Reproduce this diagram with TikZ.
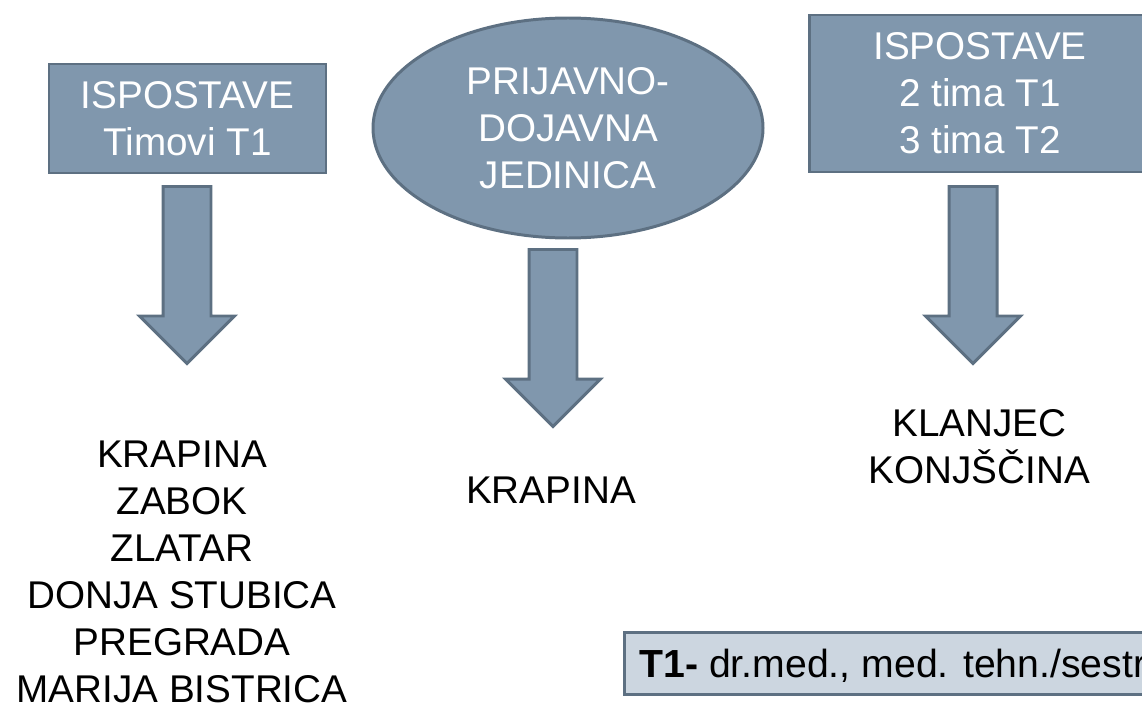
\documentclass[tikz,border=0pt]{standalone}
\usepackage{fontspec}
\setmainfont{Liberation Sans}
\usetikzlibrary{shapes.geometric,shapes.arrows}
\definecolor{boxfill}{RGB}{128,151,173}
\definecolor{boxline}{RGB}{93,112,130}
\definecolor{legendfill}{RGB}{204,214,224}
\begin{document}
\begin{tikzpicture}[
  unit/.style={draw=boxline, fill=boxfill, line width=1.7pt, text=white, align=center,
    font=\fontsize{22}{26.7}\selectfont},
  place/.style={align=center, inner sep=0pt, font=\fontsize{22}{26.7}\selectfont},
  down/.style={single arrow, draw=boxline, fill=boxfill, line width=1.7pt, rotate=-90,
    inner xsep=0pt, inner ysep=0.45cm, minimum height=3.54cm, single arrow head extend=0.47cm}]
  \path[use as bounding box] (0,0) rectangle (22.84,14.16);
  \clip (0,0) rectangle (22.84,14.16);
  % units
  \node[unit, rectangle, minimum width=5.54cm, minimum height=2.18cm] (ispL) at (3.75,11.79) {ISPOSTAVE\\Timovi T1};
  \node[unit, ellipse, minimum width=7.8cm, minimum height=4.4cm, inner sep=0pt] (pdj) at (11.36,11.60) {PRIJAVNO-\\DOJAVNA\\JEDINICA};
  \node[unit, rectangle, minimum width=6.84cm, minimum height=3.14cm] (ispR) at (19.60,12.29) {ISPOSTAVE\\2 tima T1\\3 tima T2};
  % arrows
  \node[down] (arrL) at (3.74,8.90) {};
  \node[down] (arrM) at (11.06,7.64) {};
  \node[down] (arrR) at (19.46,8.90) {};
  % places (base = last line)
  \node[place, anchor=base] (gradL) at (3.64,0.12) {KRAPINA\\ZABOK\\ZLATAR\\DONJA STUBICA\\PREGRADA\\MARIJA BISTRICA};
  \node[place, anchor=base] (gradM) at (11.02,4.10) {KRAPINA};
  \node[place, anchor=base] (gradR) at (19.59,4.50) {KLANJEC\\KONJŠČINA};
  % legend
  \node[draw=boxline, fill=legendfill, line width=1.7pt, anchor=west, minimum height=1.24cm,
    inner xsep=0.3cm, text depth=0pt, font=\fontsize{22.3}{26.7}\selectfont] (legend) at (12.46,0.90)
    {\textbf{T1-} dr.med., med. tehn./sestra};
\end{tikzpicture}
\end{document}
